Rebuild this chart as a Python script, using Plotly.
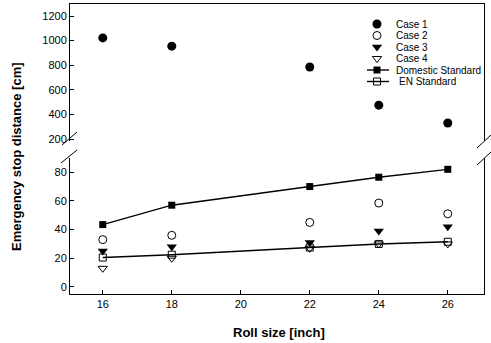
import plotly.graph_objects as go

roll_size = [16, 18, 22, 24, 26]
case1 = [1022, 955, 785, 475, 330]
case2 = [33, 36, 45, 58.5, 51]
case3 = [25, 28, 31, 39, 42]
case4 = [13, 20, 27, 30, 30]
domestic = [43.5, 57, 70, 76.5, 82]
en_std = [20.5, 22.5, 27.5, 30, 31.5]

x_ticks = [16, 18, 20, 22, 24, 26]
y_low_ticks = [0, 20, 40, 60, 80]
y_high_ticks = [200, 400, 600, 800, 1000, 1200]

legend_names = ["Case 1", "Case 2", "Case 3", "Case 4", "Domestic Standard", "EN Standard"]

FONT = "Liberation Sans, Arial, sans-serif"
BLK = "black"

fig = go.Figure()

# Case 1 on upper axis
fig.add_trace(go.Scatter(x=roll_size, y=case1, mode="markers", xaxis="x2", yaxis="y2",
                         marker=dict(symbol="circle", size=9, color=BLK), showlegend=False))
# lower axis series
fig.add_trace(go.Scatter(x=roll_size, y=domestic, mode="lines+markers", xaxis="x", yaxis="y",
                         line=dict(color=BLK, width=1.4),
                         marker=dict(symbol="square", size=7, color=BLK), showlegend=False))
fig.add_trace(go.Scatter(x=roll_size, y=en_std, mode="lines+markers", xaxis="x", yaxis="y",
                         line=dict(color=BLK, width=1.4),
                         marker=dict(symbol="square-open", size=7, color=BLK, line=dict(width=1)),
                         showlegend=False))
fig.add_trace(go.Scatter(x=roll_size, y=case2, mode="markers", xaxis="x", yaxis="y",
                         marker=dict(symbol="circle-open", size=8, color=BLK, line=dict(width=1)),
                         showlegend=False))
fig.add_trace(go.Scatter(x=roll_size, y=case3, mode="markers", xaxis="x", yaxis="y",
                         marker=dict(symbol="triangle-down", size=9, color=BLK), showlegend=False))
fig.add_trace(go.Scatter(x=roll_size, y=case4, mode="markers", xaxis="x", yaxis="y",
                         marker=dict(symbol="triangle-down-open", size=8, color=BLK, line=dict(width=1)),
                         showlegend=False))

# Manual legend on a hidden full-area axis (paper-like 0..1 coords)
W0, W1 = 70, 484
H0, H1 = 4, 294
def px(xp):
    return (xp - W0) / (W1 - W0)
def py(yp):
    return (H1 - yp) / (H1 - H0)

leg_y = [24, 35.5, 47, 58.5, 70, 81.5]
mx = px(377)
leg_markers = [
    dict(symbol="circle", size=9, color=BLK),
    dict(symbol="circle-open", size=8, color=BLK, line=dict(width=1)),
    dict(symbol="triangle-down", size=9, color=BLK),
    dict(symbol="triangle-down-open", size=8, color=BLK, line=dict(width=1)),
    dict(symbol="square", size=7, color=BLK),
    dict(symbol="square-open", size=7, color=BLK, line=dict(width=1)),
]
for i, (name, mk) in enumerate(zip(legend_names, leg_markers)):
    yy = py(leg_y[i])
    if i >= 4:
        fig.add_trace(go.Scatter(x=[px(367), mx, px(389)], y=[yy, yy, yy], mode="lines",
                                 xaxis="x3", yaxis="y3", line=dict(color=BLK, width=1.4),
                                 showlegend=False, hoverinfo="skip"))
    fig.add_trace(go.Scatter(x=[mx], y=[yy], mode="markers", xaxis="x3", yaxis="y3",
                             marker=mk, showlegend=False, hoverinfo="skip"))
    fig.add_annotation(x=px(394 if i != 5 else 397), y=yy, xref="x3", yref="y3", text=name,
                       showarrow=False, xanchor="left", yanchor="middle",
                       font=dict(family=FONT, size=10, color=BLK))

y2_bottom_px = 141
y_top_px = 158
y2_dom0 = py(y2_bottom_px)
y_dom1 = py(y_top_px)

axis_common = dict(showline=True, linecolor=BLK, linewidth=1, ticks="inside", ticklen=4,
                   tickcolor=BLK, showgrid=False, zeroline=False,
                   tickfont=dict(family=FONT, size=11, color=BLK))

fig.update_layout(
    width=491, height=343,
    margin=dict(l=W0, r=491 - W1, t=H0, b=343 - H1),
    paper_bgcolor="white", plot_bgcolor="rgba(0,0,0,0)",
    showlegend=False,
    xaxis=dict(domain=[0, 1], range=[15.05, 27.05], tickvals=x_ticks, anchor="y", **axis_common),
    yaxis=dict(domain=[0, y_dom1], range=[-4.9, 89.9], tickvals=y_low_ticks, anchor="x",
               mirror=True, **axis_common),
    xaxis2=dict(domain=[0, 1], range=[15.05, 27.05], anchor="y2", side="top", showline=True,
                linecolor=BLK, linewidth=1, showticklabels=False, ticks="", showgrid=False,
                zeroline=False),
    yaxis2=dict(domain=[y2_dom0, 1], range=[183.7, 1297.6], tickvals=y_high_ticks, anchor="x2",
                mirror=True, **axis_common),
    xaxis3=dict(domain=[0, 1], range=[0, 1], anchor="y3", visible=False),
    yaxis3=dict(domain=[0, 1], range=[0, 1], anchor="x3", visible=False),
)

# break marks
breaks = [((62, 145), (77, 132)), ((61, 163), (77, 150)),
          ((477, 148), (491, 135)), ((477, 165), (491, 152))]
for (a, b) in breaks:
    fig.add_shape(type="line", xref="paper", yref="paper",
                  x0=px(a[0]), y0=py(a[1]), x1=px(b[0]), y1=py(b[1]),
                  line=dict(color=BLK, width=1))

# axis titles
fig.add_annotation(x=px(16), y=py(157), xref="paper", yref="paper", text="<b>Emergency stop distance [cm]</b>",
                   textangle=-90, showarrow=False, xanchor="center", yanchor="middle",
                   font=dict(family=FONT, size=13, color=BLK))
fig.add_annotation(x=px(279), y=py(332), xref="paper", yref="paper", text="<b>Roll size [inch]</b>",
                   showarrow=False, xanchor="center", yanchor="middle",
                   font=dict(family=FONT, size=13, color=BLK))

fig.write_html("out.html", config={"displayModeBar": False},
               post_script="document.body.style.margin='0';")
